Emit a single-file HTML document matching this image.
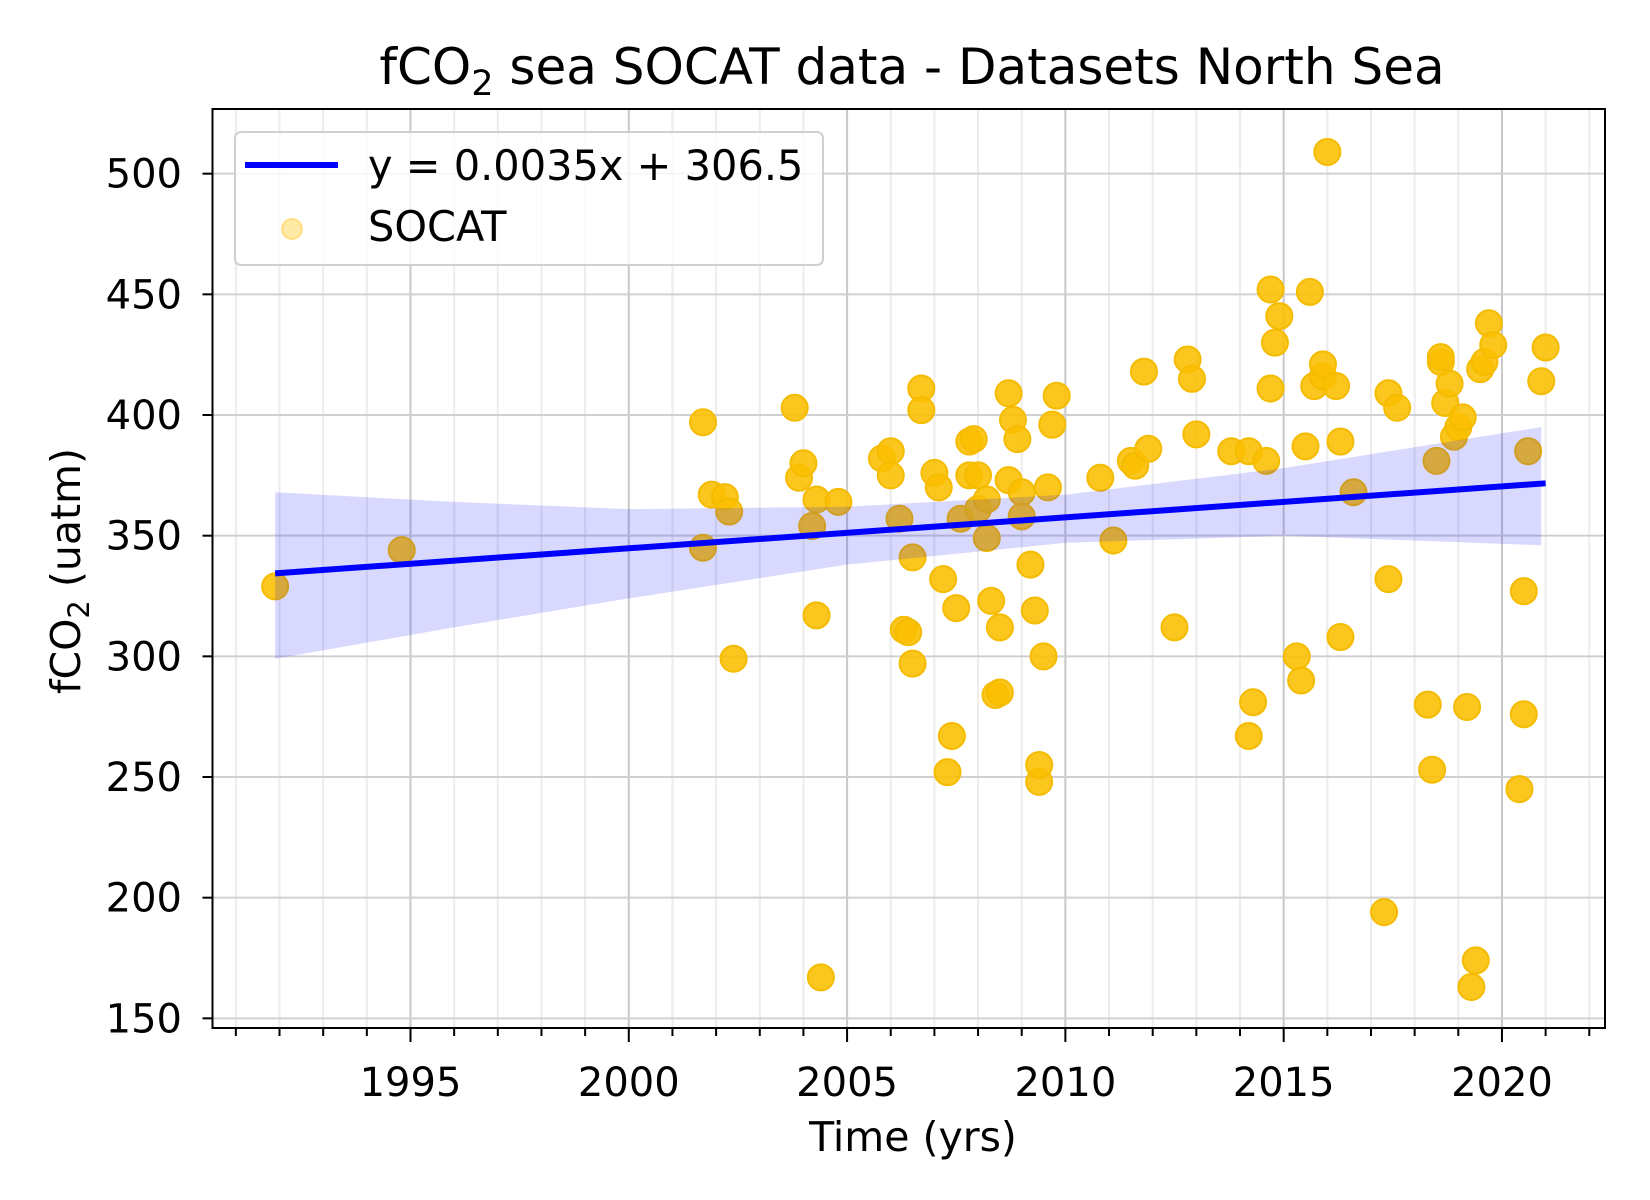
<!DOCTYPE html>
<html><head><meta charset="utf-8"><style>
html,body{margin:0;padding:0;background:#fff;}
svg{display:block;font-family:"DejaVu Sans","Liberation Sans",sans-serif;}
</style></head><body>
<svg id="chart" width="1650" height="1200" viewBox="0 0 1650 1200">
<rect width="1650" height="1200" fill="#fff"/>
<text x="912" y="84" font-size="50" text-anchor="middle">fCO<tspan font-size="35" dy="11">2</tspan><tspan dy="-11"> sea SOCAT data - Datasets North Sea</tspan></text>
<g id="grid"></g>
<g id="points"></g>
<g id="fit"></g>
<rect x="212.5" y="109" width="1392.5" height="919" fill="none" stroke="#000" stroke-width="2"/>
<g id="axes"></g>
<text x="913" y="1151" font-size="41" text-anchor="middle">Time (yrs)</text>
<text transform="translate(80,571) rotate(-90)" font-size="41" text-anchor="middle">fCO<tspan font-size="29" dy="9">2</tspan><tspan dy="-9"> (uatm)</tspan></text>
<g>
<rect x="235" y="132" width="588" height="133" rx="6" fill="#fff" fill-opacity="0.8" stroke="#d0d0d0" stroke-width="2"/>
<line x1="245" y1="165" x2="338" y2="165" stroke="#0000ff" stroke-width="6"/>
<text x="368" y="180" font-size="41.5">y = 0.0035x + 306.5</text>
<ellipse cx="292" cy="229" rx="10" ry="10" fill="#ffbf00" fill-opacity="0.35" stroke="#ffcc33" stroke-width="2" stroke-opacity="0.5"/>
<text x="368" y="241" font-size="41.5">SOCAT</text>
</g>
</svg>
<script>
const years=[1991.9,1994.8,2001.7,2001.7,2001.9,2002.2,2002.3,2002.4,2003.8,2003.9,2004.0,2004.2,2004.3,2004.3,2004.4,2004.8,2005.8,2006.0,2006.0,2006.2,2006.3,2006.4,2006.5,2006.5,2006.7,2006.7,2007.0,2007.1,2007.2,2007.3,2007.4,2007.5,2007.6,2007.8,2007.9,2007.8,2008.0,2008.0,2008.2,2008.2,2008.3,2008.4,2008.5,2008.5,2008.7,2008.7,2008.8,2008.9,2009.0,2009.0,2009.2,2009.3,2009.4,2009.4,2009.5,2009.6,2009.7,2009.8,2010.8,2011.1,2011.5,2011.6,2011.8,2011.9,2012.5,2012.8,2012.9,2013.0,2013.8,2014.2,2014.2,2014.3,2014.6,2014.7,2014.7,2014.8,2014.9,2015.3,2015.4,2015.5,2015.6,2015.7,2015.9,2015.9,2016.0,2016.2,2016.3,2016.3,2016.6,2017.3,2017.4,2017.4,2017.6,2018.3,2018.4,2018.5,2018.6,2018.6,2018.7,2018.8,2018.9,2019.0,2019.1,2019.2,2019.3,2019.4,2019.5,2019.6,2019.7,2019.8,2020.4,2020.5,2020.5,2020.6,2020.9,2021.0];
const fco2=[329,344,397,345,367,366,360,299,403,374,380,354,365,317,167,364,382,385,375,357,311,310,297,341,411,402,376,370,332,252,267,320,357,389,390,375,375,361,365,349,323,284,285,312,373,409,398,390,368,358,338,319,248,255,300,370,396,408,374,348,381,379,418,386,312,423,415,392,385,385,267,281,381,411,452,430,441,300,290,387,451,412,416,421,509,412,389,308,368,194,332,409,403,280,253,381,422,424,405,413,391,395,399,279,163,174,419,422,438,429,245,276,327,385,414,428];
const fitYears=[1991.9,2021.0];
const fitValues=[334.4,371.7];
const bandYears=[1991.9,1996,2000,2005,2010,2015,2020.9];
const bandUpper=[368,364,361,362,367,378,395];
const bandLower=[299,312,324,338,347,350,346];
const xTicks=[1995,2000,2005,2010,2015,2020];
const yTicks=[150,200,250,300,350,400,450,500];

const NS='http://www.w3.org/2000/svg';
const L=212.5,R=1605,T=109,B=1028,X0=1990.465,X1=2022.36,Y0=146,Y1=526.8;
const sx=v=>L+(v-X0)/(X1-X0)*(R-L);
const sy=v=>B-(v-Y0)/(Y1-Y0)*(B-T);
function mk(tag,attrs,parent){const e=document.createElementNS(NS,tag);for(const k in attrs)e.setAttribute(k,attrs[k]);parent.appendChild(e);return e;}
const grid=document.getElementById('grid'),axes=document.getElementById('axes'),pts=document.getElementById('points'),fit=document.getElementById('fit');
for(let y=1991;y<=2022;y++){
  const x=sx(y);const major=y%5===0;
  const g=mk('line',{x1:x,x2:x,y1:T,y2:B,stroke:major?'#c8c8c8':'#ececec','stroke-width':2},grid);
  
  
  const t=mk('line',{x1:x,x2:x,y1:B,y2:B+(major?14:8),stroke:'#000','stroke-width':2},axes);
  
  
}
xTicks.forEach(v=>{
  const t=mk('text',{x:sx(v),y:1096,'font-size':40,'text-anchor':'middle'},axes);t.textContent=v;
  
  
});
yTicks.forEach(v=>{
  const y=sy(v);
  const g=mk('line',{x1:L,x2:R,y1:y,y2:y,stroke:'#d0d0d0','stroke-width':2},grid);
  
  
  const t=mk('line',{x1:L-10,x2:L,y1:y,y2:y,stroke:'#000','stroke-width':2},axes);
  
  
  const l=mk('text',{x:182,y:y+14,'font-size':40,'text-anchor':'end'},axes);l.textContent=v;
  
  
});
years.forEach((yr,i)=>{
  const c=mk('circle',{cx:sx(yr),cy:sy(fco2[i]),r:13,fill:'#fbbf00','fill-opacity':0.88,stroke:'#f5bb00','stroke-width':2},pts);
  
  
});
let d='';
bandYears.forEach((yr,i)=>{d+=(i?'L':'M')+sx(yr)+','+sy(bandUpper[i]);});
for(let i=bandYears.length-1;i>=0;i--)d+='L'+sx(bandYears[i])+','+sy(bandLower[i]);
const band=mk('path',{d:d+'Z',fill:'#0000ff','fill-opacity':0.15},fit);


const ln=mk('line',{x1:sx(fitYears[0]),y1:sy(fitValues[0]),x2:sx(fitYears[1]),y2:sy(fitValues[1]),stroke:'#0000ff','stroke-width':6},fit);


</script>
</body></html>
